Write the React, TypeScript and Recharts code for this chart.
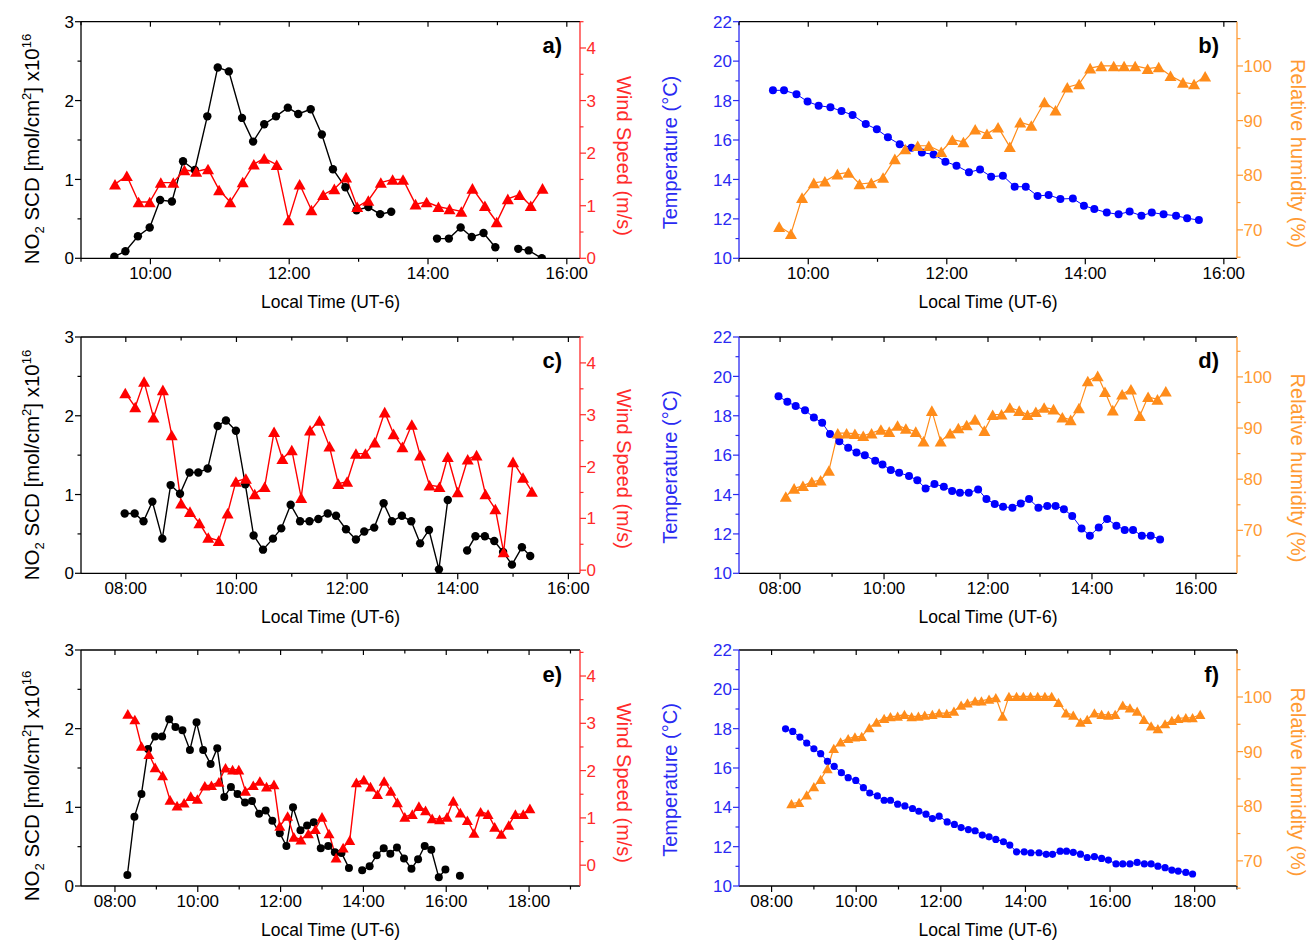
import React from 'react';
import { LineChart, Line, XAxis, YAxis } from 'recharts';

const FONT = '"Liberation Sans", Arial, Helvetica, sans-serif';
const BLACK = '#000000';
const RED = '#ff0000';
const RED_AXIS = '#ff2a2a';
const BLUE = '#0000ff';
const BLUE_AXIS = '#2a2af2';
const ORANGE = '#ff8c1a';
const ORANGE_AXIS = '#ff9a33';

// ---- panel a) NO2 / wind ----
const aNo2T = [9.48, 9.64, 9.82, 9.99, 10.14, 10.31, 10.47, 10.64, 10.82, 10.97, 11.13, 11.32, 11.48, 11.64, 11.81, 11.98, 12.13, 12.31, 12.47, 12.63, 12.81, 12.97, 13.14, 13.31, 13.47, 13.8, 14.13, 14.3, 14.47, 14.63, 14.8, 14.97, 15.13, 15.3, 15.45, 15.64];
const aNo2 = [0.02, 0.09, 0.28, 0.39, 0.74, 0.72, 1.23, 1.12, 1.8, 2.42, 2.37, 1.78, 1.48, 1.7, 1.8, 1.91, 1.83, 1.89, 1.57, 1.13, 0.9, 0.61, 0.65, 0.56, 0.59, null, 0.25, 0.25, 0.39, 0.27, 0.32, 0.14, null, 0.12, 0.1, 0.0];
const aWindT = [9.49, 9.66, 9.83, 9.99, 10.15, 10.33, 10.49, 10.66, 10.83, 10.99, 11.15, 11.33, 11.49, 11.64, 11.82, 11.99, 12.15, 12.32, 12.49, 12.65, 12.82, 12.98, 13.14, 13.32, 13.49, 13.64, 13.82, 13.98, 14.15, 14.31, 14.48, 14.64, 14.82, 14.99, 15.15, 15.32, 15.48, 15.65];
const aWind = [1.41, 1.57, 1.07, 1.07, 1.44, 1.44, 1.68, 1.65, 1.7, 1.3, 1.07, 1.45, 1.79, 1.9, 1.78, 0.73, 1.41, 0.92, 1.21, 1.32, 1.54, 0.98, 1.1, 1.44, 1.5, 1.5, 1.03, 1.07, 0.98, 0.94, 0.89, 1.33, 1.0, 0.69, 1.13, 1.21, 1.0, 1.33];

// ---- panel b) temperature / humidity ----
const bTempT = [9.49, 9.65, 9.83, 9.99, 10.15, 10.32, 10.48, 10.64, 10.83, 10.99, 11.15, 11.32, 11.49, 11.64, 11.81, 11.98, 12.14, 12.32, 12.48, 12.64, 12.81, 12.98, 13.14, 13.31, 13.47, 13.64, 13.82, 13.98, 14.13, 14.31, 14.48, 14.64, 14.81, 14.96, 15.13, 15.31, 15.47, 15.64];
const bTemp = [18.52, 18.52, 18.32, 17.95, 17.74, 17.66, 17.47, 17.27, 16.81, 16.54, 16.14, 15.78, 15.61, 15.36, 15.27, 14.9, 14.7, 14.36, 14.51, 14.14, 14.19, 13.63, 13.63, 13.16, 13.21, 13.01, 13.03, 12.67, 12.5, 12.32, 12.23, 12.37, 12.16, 12.32, 12.23, 12.16, 12.03, 11.94];
const bHumT = [9.58, 9.75, 9.91, 10.08, 10.24, 10.42, 10.58, 10.74, 10.91, 11.08, 11.25, 11.4, 11.58, 11.74, 11.92, 12.08, 12.24, 12.41, 12.58, 12.74, 12.91, 13.06, 13.22, 13.41, 13.57, 13.74, 13.91, 14.07, 14.23, 14.41, 14.56, 14.72, 14.9, 15.06, 15.23, 15.41, 15.57, 15.73];
const bHum = [70.6, 69.3, 75.9, 78.6, 78.9, 80.2, 80.5, 78.4, 78.6, 79.6, 83.0, 84.8, 85.4, 85.4, 84.3, 86.5, 86.1, 88.4, 87.6, 88.8, 85.2, 89.7, 89.1, 93.4, 91.9, 96.1, 96.7, 99.6, 100.0, 100.0, 100.0, 100.0, 99.5, 99.8, 98.2, 97.0, 96.7, 98.1];

// ---- panel c) NO2 / wind ----
const cNo2T = [7.98, 8.16, 8.32, 8.48, 8.66, 8.81, 8.98, 9.15, 9.31, 9.48, 9.66, 9.81, 9.99, 10.16, 10.31, 10.48, 10.66, 10.81, 10.98, 11.15, 11.32, 11.48, 11.65, 11.8, 11.98, 12.16, 12.31, 12.49, 12.66, 12.81, 12.99, 13.16, 13.32, 13.48, 13.66, 13.82, 14.0, 14.17, 14.32, 14.49, 14.66, 14.82, 14.98, 15.16, 15.31];
const cNo2 = [0.76, 0.76, 0.66, 0.91, 0.44, 1.12, 1.01, 1.28, 1.28, 1.33, 1.87, 1.94, 1.81, 1.13, 0.48, 0.3, 0.44, 0.57, 0.87, 0.66, 0.66, 0.69, 0.76, 0.73, 0.56, 0.43, 0.53, 0.58, 0.89, 0.66, 0.73, 0.66, 0.38, 0.55, 0.05, 0.93, null, 0.29, 0.47, 0.47, 0.41, 0.27, 0.11, 0.33, 0.22];
const cWindT = [7.99, 8.17, 8.33, 8.5, 8.67, 8.83, 9.0, 9.16, 9.33, 9.49, 9.68, 9.84, 9.99, 10.17, 10.33, 10.51, 10.68, 10.83, 11.0, 11.17, 11.33, 11.5, 11.68, 11.84, 12.0, 12.16, 12.33, 12.5, 12.68, 12.84, 13.0, 13.17, 13.32, 13.49, 13.67, 13.82, 14.0, 14.18, 14.34, 14.5, 14.68, 14.83, 15.0, 15.18, 15.34];
const cWind = [3.42, 3.15, 3.64, 2.95, 3.48, 2.61, 1.29, 1.13, 0.91, 0.63, 0.57, 1.1, 1.71, 1.77, 1.47, 1.61, 2.67, 2.15, 2.32, 1.4, 2.7, 2.89, 2.39, 1.67, 1.71, 2.25, 2.25, 2.47, 3.05, 2.63, 2.38, 2.81, 2.22, 1.64, 1.61, 2.19, 1.51, 2.14, 2.22, 1.47, 1.18, 0.35, 2.09, 1.79, 1.52];

// ---- panel d) temperature / humidity ----
const dTempT = [7.97, 8.14, 8.3, 8.48, 8.65, 8.81, 8.96, 9.14, 9.31, 9.47, 9.63, 9.83, 9.97, 10.13, 10.29, 10.48, 10.64, 10.8, 10.97, 11.15, 11.31, 11.46, 11.63, 11.81, 11.97, 12.13, 12.29, 12.47, 12.63, 12.79, 12.97, 13.14, 13.3, 13.46, 13.62, 13.8, 13.96, 14.13, 14.29, 14.47, 14.63, 14.79, 14.96, 15.13, 15.31];
const dTemp = [18.99, 18.71, 18.49, 18.28, 17.91, 17.64, 17.07, 16.71, 16.37, 16.14, 16.0, 15.71, 15.53, 15.24, 15.11, 14.94, 14.73, 14.31, 14.53, 14.4, 14.18, 14.09, 14.09, 14.26, 13.77, 13.52, 13.38, 13.33, 13.55, 13.77, 13.33, 13.42, 13.42, 13.25, 12.91, 12.28, 11.91, 12.33, 12.76, 12.42, 12.2, 12.2, 11.91, 11.91, 11.72];
const dHumT = [8.11, 8.27, 8.44, 8.61, 8.78, 8.94, 9.11, 9.28, 9.44, 9.6, 9.76, 9.94, 10.1, 10.26, 10.42, 10.61, 10.76, 10.92, 11.09, 11.27, 11.43, 11.59, 11.75, 11.93, 12.09, 12.26, 12.42, 12.6, 12.76, 12.92, 13.08, 13.26, 13.43, 13.59, 13.75, 13.92, 14.11, 14.25, 14.4, 14.58, 14.75, 14.92, 15.08, 15.26, 15.42];
const dHum = [76.6, 78.2, 78.7, 79.5, 79.8, 81.7, 89.0, 89.0, 88.9, 88.5, 89.0, 89.7, 89.3, 90.5, 89.9, 89.3, 87.4, 93.4, 87.4, 89.0, 90.0, 90.6, 91.7, 89.5, 92.6, 92.7, 94.0, 93.4, 92.6, 93.2, 94.0, 93.7, 92.1, 91.6, 93.9, 99.2, 100.2, 97.1, 93.5, 96.6, 97.6, 92.4, 96.1, 95.6, 97.2];

// ---- panel e) NO2 / wind ----
const eNo2T = [8.3, 8.47, 8.64, 8.8, 8.97, 9.14, 9.31, 9.46, 9.63, 9.81, 9.97, 10.13, 10.31, 10.47, 10.64, 10.8, 10.96, 11.14, 11.31, 11.48, 11.64, 11.8, 11.98, 12.14, 12.3, 12.48, 12.64, 12.8, 12.97, 13.15, 13.31, 13.47, 13.65, 13.81, 13.97, 14.15, 14.32, 14.49, 14.65, 14.81, 14.98, 15.16, 15.32, 15.48, 15.64, 15.82, 15.98, 16.15, 16.33];
const eNo2 = [0.14, 0.88, 1.17, 1.74, 1.9, 1.9, 2.12, 2.02, 1.98, 1.73, 2.08, 1.73, 1.55, 1.75, 1.13, 1.26, 1.17, 1.06, 1.08, 0.92, 0.96, 0.83, 0.67, 0.51, 1.0, 0.71, 0.77, 0.81, 0.48, 0.51, 0.43, 0.42, 0.23, null, 0.2, 0.25, 0.39, 0.48, 0.41, 0.49, 0.35, 0.22, 0.34, 0.51, 0.46, 0.11, 0.21, null, 0.13];
const eWindT = [8.31, 8.48, 8.64, 8.82, 8.97, 9.15, 9.33, 9.5, 9.67, 9.83, 9.99, 10.17, 10.33, 10.51, 10.67, 10.84, 10.99, 11.15, 11.34, 11.5, 11.66, 11.84, 11.98, 12.17, 12.32, 12.49, 12.67, 12.84, 13.0, 13.17, 13.34, 13.51, 13.67, 13.83, 14.01, 14.17, 14.34, 14.5, 14.66, 14.82, 15.0, 15.18, 15.34, 15.5, 15.66, 15.84, 16.02, 16.17, 16.34, 16.51, 16.67, 16.83, 17.01, 17.17, 17.33, 17.51, 17.67, 17.86, 18.02];
const eWind = [3.2, 3.08, 2.52, 2.35, 2.07, 1.9, 1.38, 1.26, 1.32, 1.46, 1.4, 1.68, 1.69, 1.76, 2.06, 2.02, 2.02, 1.57, 1.69, 1.78, 1.66, 1.71, 0.83, 1.04, 0.6, 0.54, 0.67, 0.76, 1.02, 0.67, 0.16, 0.37, 0.53, 1.75, 1.81, 1.66, 1.5, 1.78, 1.57, 1.33, 1.02, 1.08, 1.25, 1.16, 0.99, 0.97, 1.02, 1.36, 1.11, 0.95, 0.68, 1.13, 1.08, 0.81, 0.66, 0.85, 1.08, 1.08, 1.2];

// ---- panel f) temperature / humidity ----
const fTempT = [8.33, 8.5, 8.67, 8.83, 9.0, 9.16, 9.32, 9.48, 9.65, 9.81, 9.99, 10.17, 10.32, 10.5, 10.66, 10.81, 10.98, 11.15, 11.33, 11.48, 11.65, 11.8, 11.96, 12.15, 12.32, 12.48, 12.65, 12.81, 12.98, 13.14, 13.3, 13.48, 13.63, 13.79, 13.97, 14.13, 14.32, 14.49, 14.64, 14.82, 14.97, 15.13, 15.3, 15.46, 15.63, 15.8, 15.96, 16.14, 16.3, 16.47, 16.64, 16.81, 16.97, 17.13, 17.3, 17.46, 17.61, 17.79, 17.95];
const fTemp = [17.99, 17.86, 17.57, 17.27, 16.98, 16.73, 16.34, 16.08, 15.76, 15.51, 15.37, 15.0, 14.73, 14.58, 14.36, 14.36, 14.16, 14.07, 13.94, 13.8, 13.65, 13.43, 13.55, 13.26, 13.13, 12.97, 12.87, 12.81, 12.59, 12.5, 12.37, 12.25, 12.08, 11.74, 11.74, 11.69, 11.69, 11.61, 11.61, 11.77, 11.77, 11.71, 11.62, 11.45, 11.49, 11.4, 11.32, 11.12, 11.12, 11.12, 11.2, 11.12, 11.12, 11.01, 10.93, 10.81, 10.76, 10.69, 10.61];
const fHumT = [8.47, 8.65, 8.83, 9.0, 9.16, 9.32, 9.47, 9.63, 9.81, 9.97, 10.13, 10.31, 10.48, 10.66, 10.81, 10.98, 11.14, 11.31, 11.47, 11.62, 11.8, 11.96, 12.14, 12.31, 12.48, 12.63, 12.81, 12.96, 13.14, 13.3, 13.46, 13.61, 13.79, 13.95, 14.12, 14.29, 14.46, 14.62, 14.78, 14.96, 15.13, 15.3, 15.46, 15.63, 15.8, 15.96, 16.12, 16.3, 16.47, 16.64, 16.8, 16.97, 17.13, 17.3, 17.46, 17.61, 17.79, 17.95, 18.13];
const fHum = [80.5, 80.7, 82.1, 83.6, 84.9, 86.9, 90.6, 91.8, 92.4, 92.7, 92.8, 94.4, 95.4, 96.1, 96.4, 96.5, 96.8, 96.4, 96.5, 96.7, 96.8, 97.1, 97.0, 97.4, 98.5, 98.9, 99.3, 99.3, 99.6, 99.9, 96.5, 100.1, 100.1, 100.1, 100.1, 100.1, 100.1, 100.1, 99.0, 97.1, 96.7, 95.4, 95.9, 97.1, 96.8, 96.7, 96.8, 98.5, 98.0, 97.4, 95.9, 94.7, 94.2, 95.1, 95.7, 96.1, 96.2, 96.2, 96.8];

// ---- tick lists ----
const hoursAB = [9, 10, 11, 12, 13, 14, 15, 16];
const hoursCD = [8, 9, 10, 11, 12, 13, 14, 15, 16];
const hoursEF = [8, 9, 10, 11, 12, 13, 14, 15, 16, 17, 18, 19];
const no2Ticks = [0, 0.5, 1, 1.5, 2, 2.5, 3];
const windTicks = [0, 0.5, 1, 1.5, 2, 2.5, 3, 3.5, 4, 4.5];
const tempTicks = [10, 11, 12, 13, 14, 15, 16, 17, 18, 19, 20, 21, 22];
const humTicks = [65, 70, 75, 80, 85, 90, 95, 100, 105];

const rows = (t: number[], v: (number | null)[]) => t.map((x, i) => ({ t: x, v: v[i] }));
const hourLabel = (h: number) => `${h < 10 ? '0' : ''}${h}:00`;
const isEven = (v: number) => v % 2 === 0;
const isInt = (v: number) => Number.isInteger(v);
const isTen = (v: number) => v % 10 === 0;

type Side = 'left' | 'right' | 'bottom' | 'top';

function makeTick(side: Side, color: string, major: (v: number) => boolean, fmt: (v: number) => string) {
  return (p: any) => {
    const { x, y, payload } = p;
    const v = payload.value as number;
    const big = major(v);
    const len = big ? 6 : 3.5;
    const txt = { fontSize: 17, fontFamily: FONT, fill: color } as const;
    if (side === 'top') {
      return <line x1={x} y1={y} x2={x} y2={y + (big ? 5 : 3.5)} stroke={BLACK} strokeWidth={1.2} />;
    }
    if (side === 'bottom') {
      return (
        <g>
          <line x1={x} y1={y} x2={x} y2={y + len} stroke={color} strokeWidth={1.2} />
          {big && <text x={x} y={y + 21} textAnchor="middle" {...txt}>{fmt(v)}</text>}
        </g>
      );
    }
    if (side === 'left') {
      return (
        <g>
          <line x1={x - len} y1={y} x2={x} y2={y} stroke={color} strokeWidth={1.2} />
          {big && <text x={x - 7} y={y} dy="0.36em" textAnchor="end" {...txt}>{fmt(v)}</text>}
        </g>
      );
    }
    return (
      <g>
        <line x1={x} y1={y} x2={x + len} y2={y} stroke={color} strokeWidth={1.2} />
        {big && <text x={x + 6.5} y={y} dy="0.36em" textAnchor="start" {...txt}>{fmt(v)}</text>}
      </g>
    );
  };
}

function circleDot(color: string, r: number) {
  return (p: any) => {
    const { cx, cy, index } = p;
    if (cx == null || cy == null || Number.isNaN(cy) || p.value == null) return <g key={`c${index}`} />;
    return <circle key={`c${index}`} cx={cx} cy={cy} r={r} fill={color} />;
  };
}

function triangleDot(color: string, w: number, h: number) {
  return (p: any) => {
    const { cx, cy, index } = p;
    if (cx == null || cy == null || Number.isNaN(cy) || p.value == null) return <g key={`t${index}`} />;
    const pts = `${cx},${cy - h / 2} ${cx - w / 2},${cy + h / 2} ${cx + w / 2},${cy + h / 2}`;
    return <polygon key={`t${index}`} points={pts} fill={color} />;
  };
}

const NO2Title = ({ x, y }: { x: number; y: number }) => (
  <text x={x} y={y} transform={`rotate(-90 ${x} ${y})`} textAnchor="middle" fontSize={20.5} fontFamily={FONT} fill={BLACK}>
    NO<tspan fontSize={13} dy={5}>2</tspan>
    <tspan dy={-5}> SCD [mol/cm</tspan>
    <tspan fontSize={13} dy={-8}>2</tspan>
    <tspan dy={8}>] x10</tspan>
    <tspan fontSize={13} dy={-8}>16</tspan>
  </text>
);

const VTitle = ({ x, y, angle, color, text }: { x: number; y: number; angle: number; color: string; text: string }) => (
  <text x={x} y={y} transform={`rotate(${angle} ${x} ${y})`} textAnchor="middle" fontSize={20} fontFamily={FONT} fill={color}>
    {text}
  </text>
);

type Series = { t: number[]; v: (number | null)[]; axis: 'l' | 'r'; color: string; shape: 'circle' | 'triangle'; size: number; width: number };

type PanelProps = {
  left: number; top: number; width: number; height: number;
  x0: number; x1: number; y0: number; y1: number;
  xDomain: [number, number]; xTicks: number[];
  kind: 'no2' | 'met';
  lDomain: [number, number]; rDomain: [number, number];
  lTitleY: number; rTitleY: number;
  tag: string;
  series: Series[];
};

function Panel(p: PanelProps) {
  const no2 = p.kind === 'no2';
  const lColor = no2 ? BLACK : BLUE_AXIS;
  const rColor = no2 ? RED_AXIS : ORANGE_AXIS;
  const lTicks = no2 ? no2Ticks : tempTicks;
  const rTicks = no2 ? windTicks : humTicks;
  const lMajor = no2 ? isInt : isEven;
  const rMajor = no2 ? isInt : isTen;
  const fmt = (v: number) => String(v);
  const plotL = p.x0 - p.left;
  const plotR = p.x1 - p.left;
  const plotT = p.y0 - p.top;
  const plotB = p.y1 - p.top;
  const leftTitle = no2 ? (
    <NO2Title x={39 - p.left} y={p.lTitleY - p.top} />
  ) : (
    <VTitle x={677 - p.left} y={p.lTitleY - p.top} angle={-90} color={BLUE_AXIS} text="Temperature (°C)" />
  );
  const rightTitle = no2 ? (
    <VTitle x={617 - p.left} y={p.rTitleY - p.top} angle={90} color={RED_AXIS} text="Wind Speed (m/s)" />
  ) : (
    <VTitle x={1291 - p.left} y={p.rTitleY - p.top} angle={90} color={ORANGE_AXIS} text="Relative humidity (%)" />
  );

  return (
    <div style={{ position: 'absolute', left: p.left, top: p.top, width: p.width, height: p.height }}>
      <LineChart width={p.width} height={p.height} margin={{ top: plotT - 1, right: 0, bottom: 0, left: 0 }}>
        <XAxis
          xAxisId="top"
          orientation="top"
          type="number"
          dataKey="t"
          domain={p.xDomain}
          ticks={p.xTicks}
          allowDataOverflow
          interval={0}
          height={1}
          tickSize={0}
          tickMargin={0}
          tickLine={false}
          axisLine={{ stroke: BLACK, strokeWidth: 1.3 }}
          tick={makeTick('top', BLACK, isEven, hourLabel)}
          label={() => (
            <text x={plotR - 18} y={plotT + 31.5} textAnchor="end" fontSize={22} fontWeight="bold" fontFamily={FONT} fill={BLACK}>
              {p.tag}
            </text>
          )}
        />
        <XAxis
          xAxisId="b"
          orientation="bottom"
          type="number"
          dataKey="t"
          domain={p.xDomain}
          ticks={p.xTicks}
          allowDataOverflow
          interval={0}
          height={p.height - plotB}
          tickSize={0}
          tickMargin={0}
          tickLine={false}
          axisLine={{ stroke: BLACK, strokeWidth: 1.3 }}
          tick={makeTick('bottom', BLACK, isEven, hourLabel)}
          label={() => (
            <text x={(plotL + plotR) / 2} y={plotB + 50} textAnchor="middle" fontSize={17.5} fontFamily={FONT} fill={BLACK}>
              Local Time (UT-6)
            </text>
          )}
        />
        <YAxis
          yAxisId="l"
          orientation="left"
          type="number"
          domain={p.lDomain}
          ticks={lTicks}
          allowDataOverflow
          interval={0}
          width={plotL}
          tickSize={0}
          tickMargin={0}
          tickLine={false}
          axisLine={{ stroke: lColor, strokeWidth: 1.3 }}
          tick={makeTick('left', lColor, lMajor, fmt)}
          label={() => leftTitle}
        />
        <YAxis
          yAxisId="r"
          orientation="right"
          type="number"
          domain={p.rDomain}
          ticks={rTicks}
          allowDataOverflow
          interval={0}
          width={p.width - plotR}
          tickSize={0}
          tickMargin={0}
          tickLine={false}
          axisLine={{ stroke: rColor, strokeWidth: 1.3 }}
          tick={makeTick('right', rColor, rMajor, fmt)}
          label={() => rightTitle}
        />
        {p.series.map((s, i) => (
          <Line
            key={i}
            data={rows(s.t, s.v)}
            dataKey="v"
            xAxisId="b"
            yAxisId={s.axis}
            type="linear"
            stroke={s.color}
            strokeWidth={s.width}
            connectNulls={false}
            dot={s.shape === 'circle' ? circleDot(s.color, s.size) : triangleDot(s.color, s.size, s.size * 0.88)}
            activeDot={false}
            isAnimationActive={false}
          />
        ))}
      </LineChart>
    </div>
  );
}

const ROW1 = { top: 0, height: 318.3, y0: 21.7, y1: 258.3 };
const ROW2 = { top: 318, height: 315.3, y0: 337, y1: 573.3 };
const ROW3 = { top: 632, height: 311, y0: 650, y1: 886 };
const LEFT = { left: 0, width: 660, x0: 81, x1: 580 };
const RIGHT = { left: 660, width: 654, x0: 739, x1: 1237 };

export default function App() {
  return (
    <div style={{ position: 'absolute', left: 0, top: 0, width: 1314, height: 943, background: '#fff', overflow: 'hidden' }}>
      <Panel
        {...LEFT} {...ROW1} kind="no2" tag="a)"
        xDomain={[9.0, 16.19]} xTicks={hoursAB}
        lDomain={[0, 3]} rDomain={[0, 4.5]}
        lTitleY={149} rTitleY={156}
        series={[
          { t: aNo2T, v: aNo2, axis: 'l', color: BLACK, shape: 'circle', size: 4.2, width: 1.4 },
          { t: aWindT, v: aWind, axis: 'r', color: RED, shape: 'triangle', size: 12, width: 1.4 },
        ]}
      />
      <Panel
        {...RIGHT} {...ROW1} kind="met" tag="b)"
        xDomain={[9.0, 16.19]} xTicks={hoursAB}
        lDomain={[10, 22]} rDomain={[64.8, 108.1]}
        lTitleY={152.5} rTitleY={153.5}
        series={[
          { t: bTempT, v: bTemp, axis: 'l', color: BLUE, shape: 'circle', size: 4, width: 1 },
          { t: bHumT, v: bHum, axis: 'r', color: ORANGE, shape: 'triangle', size: 12, width: 1.2 },
        ]}
      />
      <Panel
        {...LEFT} {...ROW2} kind="no2" tag="c)"
        xDomain={[7.19, 16.21]} xTicks={hoursCD}
        lDomain={[0, 3]} rDomain={[-0.06, 4.5]}
        lTitleY={465} rTitleY={469}
        series={[
          { t: cNo2T, v: cNo2, axis: 'l', color: BLACK, shape: 'circle', size: 4.2, width: 1.4 },
          { t: cWindT, v: cWind, axis: 'r', color: RED, shape: 'triangle', size: 12, width: 1.4 },
        ]}
      />
      <Panel
        {...RIGHT} {...ROW2} kind="met" tag="d)"
        xDomain={[7.21, 16.79]} xTicks={hoursCD}
        lDomain={[10, 22]} rDomain={[61.6, 107.8]}
        lTitleY={467} rTitleY={468}
        series={[
          { t: dTempT, v: dTemp, axis: 'l', color: BLUE, shape: 'circle', size: 4, width: 1 },
          { t: dHumT, v: dHum, axis: 'r', color: ORANGE, shape: 'triangle', size: 12, width: 1.2 },
        ]}
      />
      <Panel
        {...LEFT} {...ROW3} kind="no2" tag="e)"
        xDomain={[7.18, 19.23]} xTicks={hoursEF}
        lDomain={[0, 3]} rDomain={[-0.44, 4.55]}
        lTitleY={786} rTitleY={783}
        series={[
          { t: eNo2T, v: eNo2, axis: 'l', color: BLACK, shape: 'circle', size: 4, width: 1.4 },
          { t: eWindT, v: eWind, axis: 'r', color: RED, shape: 'triangle', size: 11, width: 1.4 },
        ]}
      />
      <Panel
        {...RIGHT} {...ROW3} kind="met" tag="f)"
        xDomain={[7.23, 19.0]} xTicks={hoursEF}
        lDomain={[10, 22]} rDomain={[65.4, 108.6]}
        lTitleY={780} rTitleY={782}
        series={[
          { t: fTempT, v: fTemp, axis: 'l', color: BLUE, shape: 'circle', size: 3.6, width: 1 },
          { t: fHumT, v: fHum, axis: 'r', color: ORANGE, shape: 'triangle', size: 10.5, width: 1.2 },
        ]}
      />
    </div>
  );
}
